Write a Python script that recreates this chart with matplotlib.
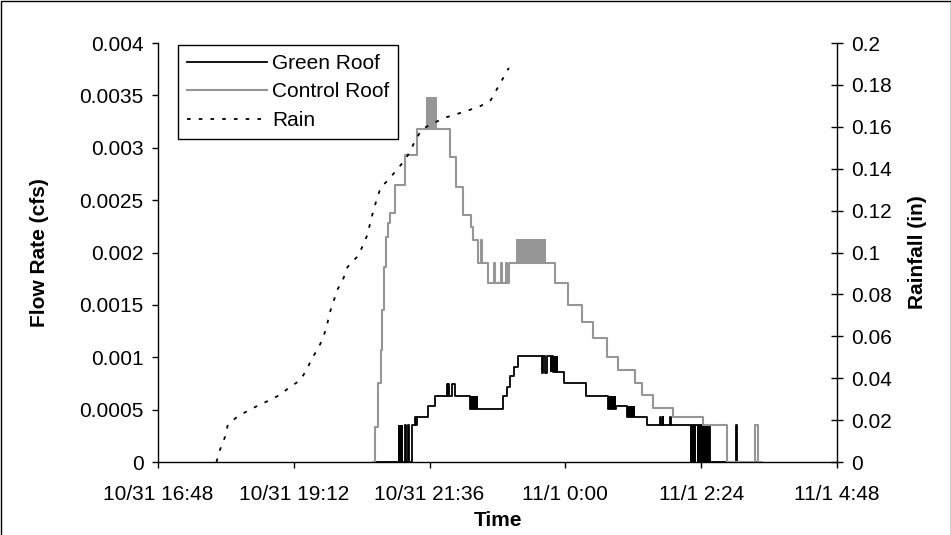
import matplotlib
matplotlib.use("Agg")
import matplotlib.pyplot as plt
import matplotlib.dates as mdates
from matplotlib.lines import Line2D
from matplotlib.ticker import FuncFormatter, MultipleLocator
import pandas as pd

plt.rcParams['font.family'] = ['Liberation Sans', 'DejaVu Sans']

YEAR = "2008/"

# ---------------- data ----------------
rain_time = ["10/31 17:50", "10/31 17:54", "10/31 17:59", "10/31 18:02", "10/31 18:13",
             "10/31 18:23", "10/31 18:35", "10/31 18:47", "10/31 18:57", "10/31 19:08",
             "10/31 19:19", "10/31 19:26", "10/31 19:31", "10/31 19:38", "10/31 19:43",
             "10/31 19:47", "10/31 19:50", "10/31 19:54", "10/31 19:58", "10/31 20:04",
             "10/31 20:09", "10/31 20:19", "10/31 20:24", "10/31 20:30", "10/31 20:33",
             "10/31 20:36", "10/31 20:40", "10/31 20:44", "10/31 20:53", "10/31 21:02",
             "10/31 21:09", "10/31 21:15", "10/31 21:21", "10/31 21:28", "10/31 21:42",
             "10/31 21:54", "10/31 22:05", "10/31 22:18", "10/31 22:30", "10/31 22:41",
             "10/31 22:47", "10/31 22:54", "10/31 23:00"]
rain_in = [0.0, 0.0062, 0.0119, 0.0177, 0.0220,
           0.0243, 0.0272, 0.0296, 0.0320, 0.0358,
           0.0391, 0.0444, 0.0492, 0.0544, 0.0592,
           0.0649, 0.0711, 0.0764, 0.0821, 0.0869,
           0.0931, 0.0979, 0.1021, 0.1084, 0.1141,
           0.1193, 0.1255, 0.1308, 0.1351, 0.1399,
           0.1437, 0.1480, 0.1537, 0.1589, 0.1622,
           0.1646, 0.1661, 0.1680, 0.1699, 0.1728,
           0.1777, 0.1833, 0.1881]

control_time = ["10/31 20:36", "10/31 20:38", "10/31 20:41", "10/31 20:44", "10/31 20:46",
                "10/31 20:48", "10/31 20:50", "10/31 20:52", "10/31 20:54", "10/31 20:59",
                "10/31 21:10", "10/31 21:23", "10/31 21:58", "10/31 22:04", "10/31 22:11",
                "10/31 22:20", "10/31 22:22", "10/31 22:27", "10/31 22:31", "10/31 22:32",
                "10/31 22:38", "10/31 22:44", "10/31 22:45", "10/31 22:52", "10/31 22:53",
                "10/31 22:57", "10/31 22:58", "10/31 23:00", "10/31 23:49", "11/1 0:03",
                "11/1 0:18", "11/1 0:29", "11/1 0:44", "11/1 0:56", "11/1 1:14",
                "11/1 1:21", "11/1 1:33", "11/1 1:54", "11/1 2:26", "11/1 2:51",
                "11/1 3:21", "11/1 3:24", "11/1 3:29"]
control_cfs = [0.0, 0.00033, 0.00075, 0.00107, 0.00145,
               0.00186, 0.00215, 0.00228, 0.00238, 0.00264,
               0.00293, 0.00318, 0.00291, 0.00263, 0.00236,
               0.00224, 0.00212, 0.00190, 0.00212, 0.00190,
               0.00171, 0.00190, 0.00171, 0.00190, 0.00171,
               0.00190, 0.00171, 0.00190, 0.00171, 0.00150,
               0.00134, 0.00118, 0.00100, 0.00088, 0.00075,
               0.00064, 0.00052, 0.00043, 0.00035, 0.0,
               0.00035, 0.0, 0.0]

# rapid oscillation between two readings (drawn as solid bands)
control_band_start = ["10/31 21:32", "10/31 23:08"]
control_band_end = ["10/31 21:44", "10/31 23:39"]
control_band_low = [0.00318, 0.00190]
control_band_high = [0.00348, 0.00213]

green_time = ["10/31 20:36", "10/31 21:08", "10/31 21:10", "10/31 21:11", "10/31 21:13",
              "10/31 21:14", "10/31 21:17", "10/31 21:20", "10/31 21:22", "10/31 21:23",
              "10/31 21:34", "10/31 21:42", "10/31 21:54", "10/31 21:55", "10/31 21:56",
              "10/31 21:57", "10/31 22:00", "10/31 22:03", "10/31 22:19", "10/31 22:54",
              "10/31 22:58", "10/31 23:01", "10/31 23:06", "10/31 23:10", "10/31 23:35",
              "10/31 23:36", "10/31 23:38", "10/31 23:40", "10/31 23:47", "10/31 23:58",
              "11/1 0:22", "11/1 0:45", "11/1 0:54", "11/1 1:05", "11/1 1:14",
              "11/1 1:26", "11/1 1:40", "11/1 1:41", "11/1 1:43", "11/1 1:44",
              "11/1 1:51", "11/1 1:52", "11/1 2:12", "11/1 2:33", "11/1 3:01",
              "11/1 3:02", "11/1 3:29"]
green_cfs = [0.0, 0.0, 0.00035, 0.0, 0.00035,
             0.0, 0.00035, 0.00043, 0.00035, 0.00043,
             0.00053, 0.00063, 0.00074, 0.00063, 0.00074,
             0.00063, 0.00074, 0.00063, 0.00051, 0.00063,
             0.00072, 0.00082, 0.00091, 0.00101, 0.00085,
             0.00101, 0.00085, 0.00101, 0.00086, 0.00075,
             0.00063, 0.00051, 0.00053, 0.00043, 0.00043,
             0.00035, 0.00043, 0.00035, 0.00043, 0.00035,
             0.00043, 0.00035, 0.00035, 0.0, 0.00035,
             0.0, 0.0]

green_band_start = ["10/31 21:02", "10/31 22:19", "10/31 23:44", "11/1 0:45", "11/1 1:05",
                    "11/1 2:12", "11/1 2:20"]
green_band_end = ["10/31 21:08", "10/31 22:27", "10/31 23:52", "11/1 0:54", "11/1 1:14",
                  "11/1 2:18", "11/1 2:33"]
green_band_low = [0.0, 0.00051, 0.00086, 0.00051, 0.00043, 0.0, 0.0]
green_band_high = [0.00035, 0.00063, 0.00101, 0.00063, 0.00053, 0.00035, 0.00035]

x_start = "10/31 16:48"
x_end = "11/1 4:48"

# ---------------- helpers ----------------
def to_dt(lst):
    return pd.to_datetime([YEAR + s for s in lst], format="%Y/%m/%d %H:%M")

FS = 15
GRAY = "#969696"

fig = plt.figure(figsize=(9.51, 5.35), dpi=100)
ax = fig.add_axes([158 / 951, 73 / 535, 679 / 951, 419 / 535])
ax2 = ax.twinx()

# green roof
ax.plot(to_dt(green_time), green_cfs, drawstyle="steps-post", color="black", lw=1.3, zorder=2,
        label="Green Roof")
for s, e, lo, hi in zip(to_dt(green_band_start), to_dt(green_band_end), green_band_low, green_band_high):
    ax.fill_between([s, e], [lo, lo], [hi, hi], color="black", lw=0, zorder=2)

# control roof
ax.plot(to_dt(control_time), control_cfs, drawstyle="steps-post", color=GRAY, lw=1.5, zorder=3,
        label="Control Roof")
for s, e, lo, hi in zip(to_dt(control_band_start), to_dt(control_band_end), control_band_low, control_band_high):
    ax.fill_between([s, e], [lo, lo], [hi, hi], color=GRAY, lw=0, zorder=3)

# rain
ax2.plot(to_dt(rain_time), rain_in, color="black", lw=1.3, linestyle=(0, (2, 4.5)), label="Rain")

# axes limits
xs = to_dt([x_start])[0]
xe = to_dt([x_end])[0]
ax.set_xlim(xs, xe)
ax.set_ylim(0, 0.004)
ax2.set_ylim(0, 0.2)

ax.set_xticks(pd.date_range(xs, xe, freq="144min"))

def fmt_date(x, pos):
    d = pd.Timestamp(mdates.num2date(x)).round("min")
    return f"{d.month}/{d.day} {d.hour}:{d.minute:02d}"

ax.xaxis.set_major_formatter(FuncFormatter(fmt_date))
ax.yaxis.set_major_locator(MultipleLocator(0.0005))
ax2.yaxis.set_major_locator(MultipleLocator(0.02))
ax.yaxis.set_major_formatter(FuncFormatter(lambda v, p: f"{v:g}"))
ax2.yaxis.set_major_formatter(FuncFormatter(lambda v, p: f"{round(v, 4):g}"))

for a in (ax, ax2):
    a.spines["top"].set_visible(False)
ax.spines["right"].set_visible(False)
ax2.spines["left"].set_visible(False)
ax2.spines["bottom"].set_visible(False)
for sp in ("left", "bottom"):
    ax.spines[sp].set_linewidth(1.0)
ax2.spines["right"].set_linewidth(1.0)

ax.tick_params(axis="y", direction="out", length=4.5, width=1, labelsize=FS, pad=6)
ax.tick_params(axis="x", direction="out", length=4.5, width=1, labelsize=FS, pad=12)
ax2.tick_params(axis="y", direction="inout", length=8, width=1, labelsize=FS, pad=6)

ax.set_xlabel("Time", fontsize=FS, fontweight="bold")
ax.xaxis.set_label_coords(0.5, -0.116)
ax.set_ylabel("Flow Rate (cfs)", fontsize=FS, fontweight="bold")
ax.yaxis.set_label_coords(-0.160, 0.5)
ax2.set_ylabel("Rainfall (in)", fontsize=FS, fontweight="bold")
ax2.yaxis.set_label_coords(1.104, 0.5)

h1, l1 = ax.get_legend_handles_labels()
h2, l2 = ax2.get_legend_handles_labels()
leg = ax2.legend(h1 + h2, l1 + l2, loc="upper left", bbox_to_anchor=(0.0295, 0.995),
                 borderaxespad=0, fontsize=FS, frameon=True, fancybox=False, framealpha=1,
                 edgecolor="black", handlelength=3.85, handletextpad=0.25, labelspacing=0.46,
                 borderpad=0.42)
leg.get_frame().set_linewidth(1.0)

# outer chart border
fig.add_artist(Line2D([0.5 / 951, 0.5 / 951, 950.5 / 951, 950.5 / 951],
                      [0, 534.5 / 535, 534.5 / 535, 0], color="black", lw=1.0,
                      transform=fig.transFigure))

fig.savefig("out.png", dpi=100)
